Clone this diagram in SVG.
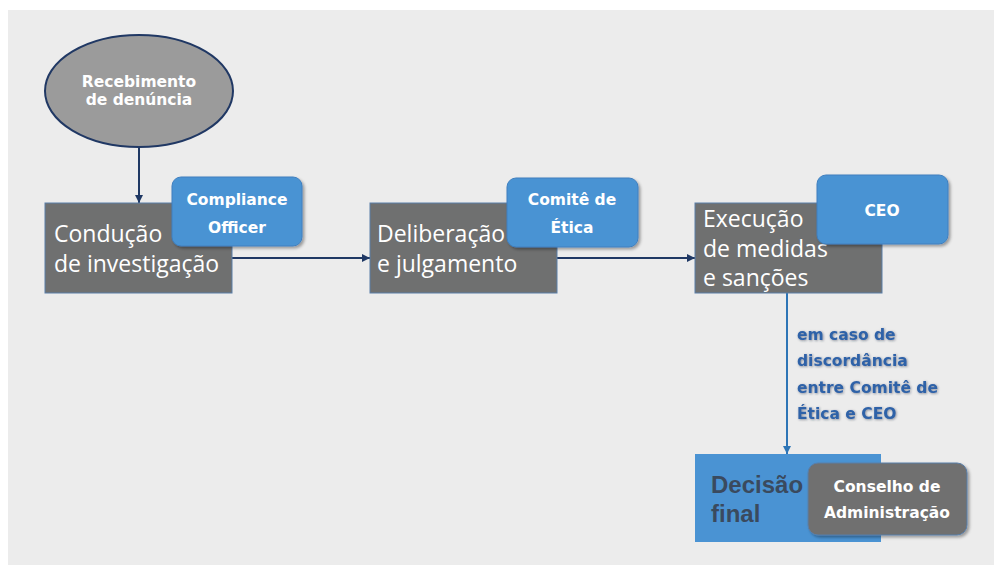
<svg xmlns="http://www.w3.org/2000/svg" width="997" height="572" viewBox="0 0 997 572">
<style>
.step{fill:#6f7070;stroke:#5a7ea8;stroke-width:1}
.role{fill:#4a93d3;stroke:#3f7fbf;stroke-width:1}
.board{fill:#6f7070;stroke:#5a7ea8;stroke-width:1}
.steptxt{font-family:"Open Sans","DejaVu Sans",sans-serif;font-size:23px;fill:#ffffff}
.roletxt{font-family:"DejaVu Sans","Open Sans",sans-serif;font-weight:bold;font-size:15.5px;fill:#ffffff;text-anchor:middle}
.lbl{font-family:"DejaVu Sans","Open Sans",sans-serif;font-weight:bold;font-size:15.5px;fill:#2f62a8}
.final{font-family:"Liberation Sans","Open Sans",sans-serif;font-weight:bold;font-size:24px;fill:#3a4a5e}
.conn{fill:none;stroke:#1f3864;stroke-width:2}
.conn2{fill:none;stroke:#2e75b6;stroke-width:2}
</style>
<defs>
<marker id="ah" viewBox="0 0 10 10" refX="10" refY="5" markerWidth="8" markerHeight="8" markerUnits="userSpaceOnUse" orient="auto">
<path d="M0,0 L10,5 L0,10 z" fill="#1f3864"/>
</marker>
<marker id="ah2" viewBox="0 0 10 10" refX="10" refY="5" markerWidth="8" markerHeight="8" markerUnits="userSpaceOnUse" orient="auto">
<path d="M0,0 L10,5 L0,10 z" fill="#2e75b6"/>
</marker>
<filter id="sh" x="-10%" y="-10%" width="130%" height="140%">
<feDropShadow dx="2" dy="2" stdDeviation="1.5" flood-color="#000" flood-opacity="0.35"/>
</filter>
<filter id="tsh" x="-5%" y="-20%" width="110%" height="150%">
<feDropShadow dx="0.8" dy="0.8" stdDeviation="0.8" flood-color="#1a2a40" flood-opacity="0.5"/>
</filter>
</defs>
<rect x="0" y="0" width="997" height="572" fill="#ffffff"/>
<rect x="8" y="10" width="986" height="555" fill="#ececec"/>

<g id="connectors">
<line class="conn" x1="139" y1="147" x2="139" y2="203" marker-end="url(#ah)"/>
<line class="conn" x1="232" y1="258" x2="370" y2="258" marker-end="url(#ah)"/>
<line class="conn" x1="557" y1="258" x2="695" y2="258" marker-end="url(#ah)"/>
<line class="conn2" x1="787" y1="293" x2="787" y2="454" marker-end="url(#ah2)"/>
</g>

<g id="recebimento">
<ellipse cx="139" cy="91" rx="94" ry="56" fill="#9b9b9b" stroke="#203864" stroke-width="2"/>
<text class="roletxt" x="139" y="87">Recebimento</text>
<text class="roletxt" x="139" y="105">de denúncia</text>
</g>

<g id="conducao">
<rect class="step" x="45" y="203" width="187" height="90"/>
<text class="steptxt" x="54" y="242">Condução</text>
<text class="steptxt" x="54" y="272">de investigação</text>
</g>
<g id="compliance">
<rect class="role" x="172" y="177" width="130" height="69" rx="9" filter="url(#sh)"/>
<text class="roletxt" x="237" y="205">Compliance</text>
<text class="roletxt" x="237" y="233">Officer</text>
</g>

<g id="deliberacao">
<rect class="step" x="370" y="203" width="187" height="90"/>
<text class="steptxt" x="377" y="242">Deliberação</text>
<text class="steptxt" x="377" y="272">e julgamento</text>
</g>
<g id="comite">
<rect class="role" x="507" y="178" width="131" height="69" rx="9" filter="url(#sh)"/>
<text class="roletxt" x="572" y="205">Comitê de</text>
<text class="roletxt" x="572" y="233">Ética</text>
</g>

<g id="execucao">
<rect class="step" x="695" y="203" width="187" height="90"/>
<text class="steptxt" x="703" y="227">Execução</text>
<text class="steptxt" x="703" y="257">de medidas</text>
<text class="steptxt" x="703" y="286">e sanções</text>
</g>
<g id="ceo">
<rect class="role" x="817" y="175" width="131" height="69" rx="9" filter="url(#sh)"/>
<text class="roletxt" x="882" y="216">CEO</text>
</g>

<g id="condicao" filter="url(#tsh)">
<text class="lbl" x="797" y="340">em caso de</text>
<text class="lbl" x="797" y="366">discordância</text>
<text class="lbl" x="797" y="393">entre Comitê de</text>
<text class="lbl" x="797" y="419">Ética e CEO</text>
</g>

<g id="decisao">
<rect x="695" y="454" width="186" height="88" fill="#4a93d3"/>
<text class="final" x="711" y="493">Decisão</text>
<text class="final" x="711" y="522">final</text>
</g>
<g id="conselho">
<rect class="board" x="808" y="463" width="159" height="72" rx="10" filter="url(#sh)"/>
<text class="roletxt" x="887" y="492">Conselho de</text>
<text class="roletxt" x="887" y="518">Administração</text>
</g>
</svg>
